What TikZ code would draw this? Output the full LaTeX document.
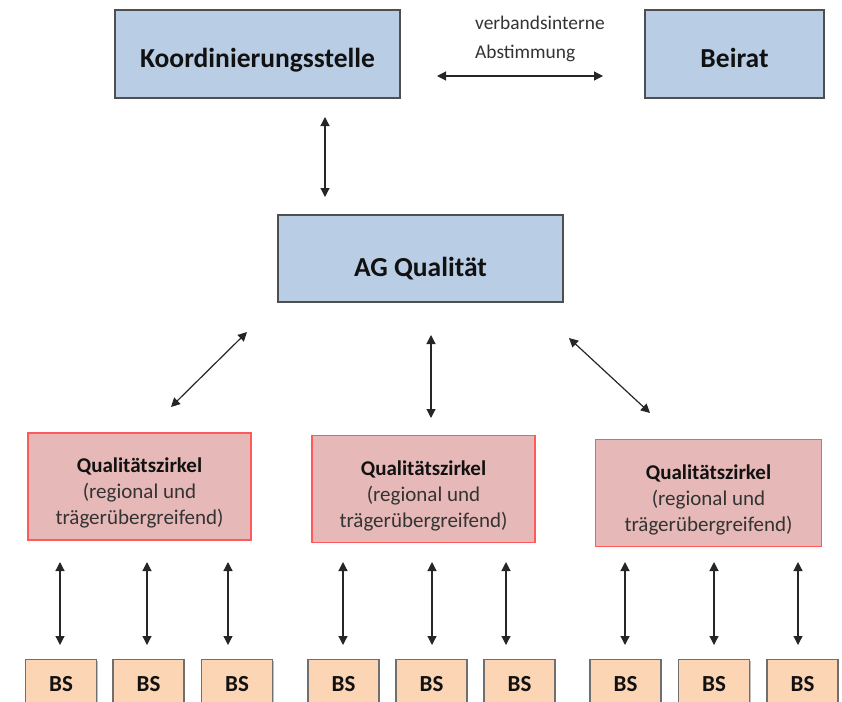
\documentclass[tikz,border=0pt]{standalone}
\usepackage{fontspec}
\setmainfont{Carlito}
\usetikzlibrary{arrows.meta,shadows}
\definecolor{bluefill}{HTML}{B9CDE5}
\definecolor{blueborder}{HTML}{4F4F4F}
\definecolor{pinkfill}{HTML}{E6B9B8}
\definecolor{pinkborder}{HTML}{FF5A5A}
\definecolor{bsfill}{HTML}{FCD5B5}
\definecolor{bsborder}{HTML}{6F6F6F}
\definecolor{arrowgray}{HTML}{262626}
\definecolor{txt}{HTML}{111111}
\definecolor{txtlight}{HTML}{333333}
\newcommand{\qztext}{\raisebox{-7pt}[\height][\depth]{\begin{tabular}{@{}c@{}}\textbf{\color{txt}Qualitätszirkel}\\(regional und\\trägerübergreifend)\end{tabular}}}
\begin{document}
\begin{tikzpicture}[x=1pt,y=-1pt,
  bluebox/.style={draw=blueborder, line width=1.3pt, fill=bluefill, inner sep=0pt,
    drop shadow={shadow xshift=1.2pt, shadow yshift=-1.2pt, fill=black, opacity=0.3},
    font=\fontsize{27.5}{33}\selectfont\bfseries, text=txt, text depth=0pt},
  pinkbox/.style={draw=pinkborder, line width=1.6pt, fill=pinkfill, inner sep=0pt,
    minimum width=223pt, minimum height=107pt,
    font=\fontsize{21}{26}\selectfont, text=txtlight},
  bsbox/.style={draw=bsborder, line width=1.3pt, fill=bsfill, inner sep=0pt,
    minimum width=71pt, minimum height=44pt, anchor=north,
    drop shadow={shadow xshift=1pt, shadow yshift=-1pt, fill=black, opacity=0.25},
    font=\fontsize{23}{28}\selectfont\bfseries, text=txt,
    text height=20pt, text depth=0pt},
  arr/.style={{Triangle[width=9pt,length=9pt]}-{Triangle[width=9pt,length=9pt]},
    line width=1.2pt, draw=arrowgray},
  note/.style={font=\fontsize{19.4}{29}\selectfont, text=txtlight, inner sep=0pt,
    anchor=north west}
]
\useasboundingbox (0,0) rectangle (842,701);
\clip (0,0) rectangle (842,701);

% top row
\node[bluebox, minimum width=285pt, minimum height=88pt, text height=26pt] (koord) at (257.5,54) {Koordinierungsstelle};
\node[bluebox, minimum width=179pt, minimum height=88pt, text height=26pt] (beirat) at (734.5,54) {Beirat};
\node[note] (vi) at (475,8.7) {\begin{tabular}{@{}l@{}}verbandsinterne\\Abstimmung\end{tabular}};

\coordinate (kb1) at (437,76);
\coordinate (kb2) at (603,76);
\draw[arr] (kb1) -- (kb2);

% AG
\node[bluebox, minimum width=285pt, minimum height=87pt, text height=35pt] (ag) at (420.5,258.5) {AG Qualität};

\coordinate (ka1) at (325,117);
\coordinate (ka2) at (325,197);
\draw[arr] (ka1) -- (ka2);

% Qualitaetszirkel
\node[pinkbox] (qz1) at (139.5,486.5) {\qztext};
\node[pinkbox] (qz2) at (423.5,489) {\qztext};
\node[pinkbox, minimum width=226pt] (qz3) at (708.5,493) {\qztext};

\coordinate (l1) at (247,332);
\coordinate (l2) at (171,407);
\coordinate (m1) at (431,335);
\coordinate (m2) at (431,418);
\coordinate (r1) at (569,338);
\coordinate (r2) at (650,413);
\draw[arr] (l1) -- (l2);
\draw[arr] (m1) -- (m2);
\draw[arr] (r1) -- (r2);

% BS row
\foreach \i/\bx/\ax in {1/61/60, 2/148.5/147, 3/237/228, 4/343.5/343, 5/431.5/432, 6/519.5/506, 7/625.5/625, 8/714/714, 9/802.5/798} {
  \node[bsbox] (bs\i) at (\bx,659) {BS};
  \coordinate (bt\i) at (\ax,562);
  \coordinate (bb\i) at (\ax,645);
  \draw[arr] (bt\i) -- (bb\i);
}
\end{tikzpicture}
\end{document}
